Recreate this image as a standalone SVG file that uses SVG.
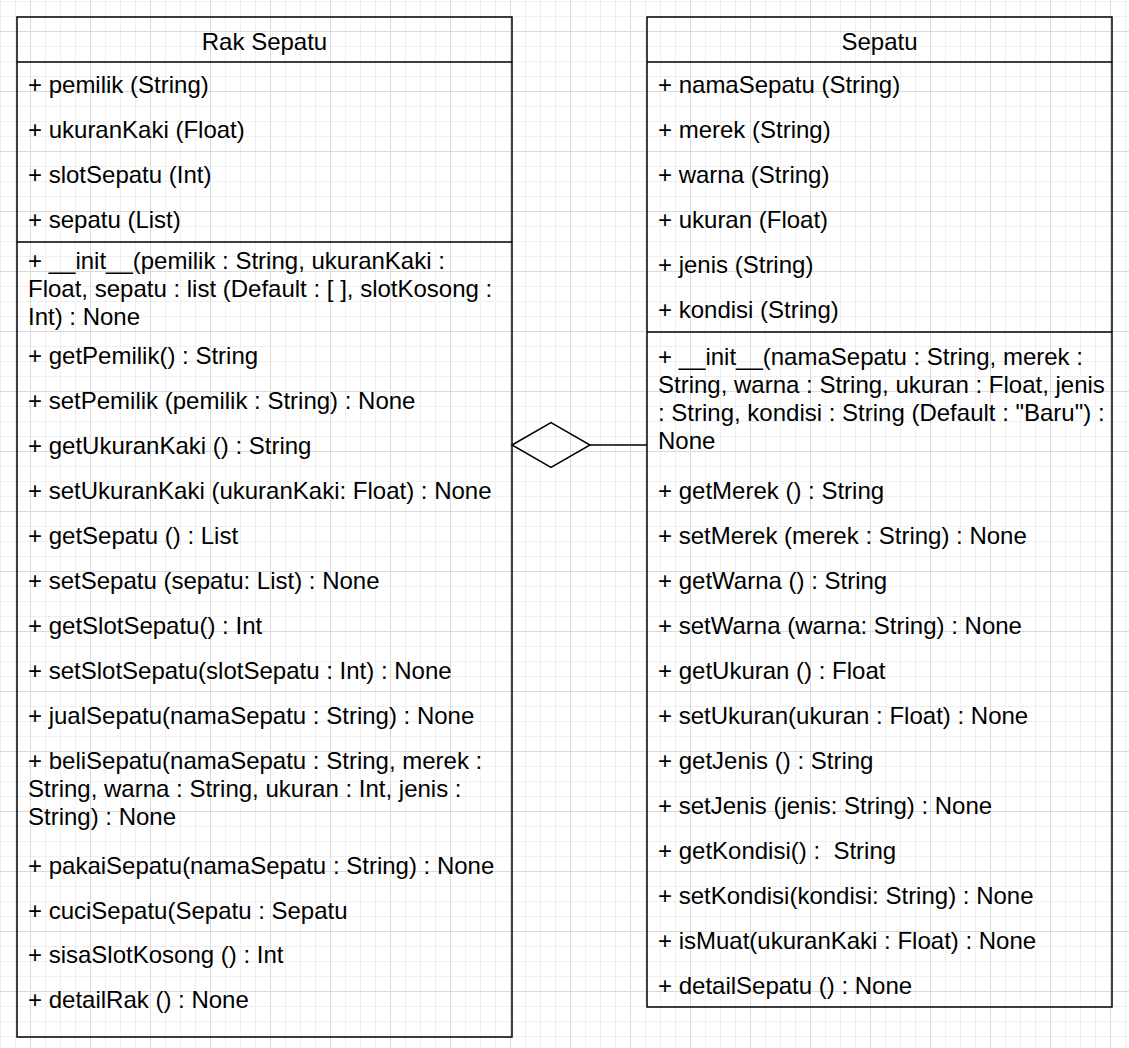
<svg xmlns="http://www.w3.org/2000/svg" width="1129" height="1048" viewBox="0 0 1129 1048">
<style>
.box{fill:none;stroke:#000;stroke-width:1.5}
.ln{stroke:#000;stroke-width:1.5;fill:none}
text{font-family:"Liberation Sans",Arial,sans-serif;font-size:24px;fill:#000;white-space:pre}
.hd{text-anchor:middle}
</style>
<defs>
<pattern id="grid" patternUnits="userSpaceOnUse" x="30" y="31" width="60" height="60">
<path d="M15.5 0V60M30.5 0V60M45.5 0V60M0 15.5H60M0 30.5H60M0 45.5H60" stroke="#f0f0f0" stroke-width="1"/>
<path d="M0.5 0V60M0 0.5H60" stroke="#dadada" stroke-width="1"/>
</pattern>
</defs>
<rect width="1129" height="1048" fill="#fff"/>
<rect width="1129" height="1048" fill="url(#grid)"/>
<g id="connectors">
<polygon class="ln" points="512,445 551,422.5 590,445 551,467.5"/>
<line class="ln" x1="590" y1="445" x2="647" y2="445"/>
</g>
<g id="rak-sepatu">
<rect class="box" x="17" y="17" width="495" height="1020"/>
<line class="ln" x1="17" y1="62" x2="512" y2="62"/>
<line class="ln" x1="17" y1="242" x2="512" y2="242"/>
<text class="hd" x="264.5" y="50">Rak Sepatu</text>
<text x="28" y="93">+ pemilik (String)</text>
<text x="28" y="138">+ ukuranKaki (Float)</text>
<text x="28" y="183">+ slotSepatu (Int)</text>
<text x="28" y="228">+ sepatu (List)</text>
<text x="28" y="268.5">+ __init__(pemilik : String, ukuranKaki :</text>
<text x="28" y="296.5">Float, sepatu : list (Default : [ ], slotKosong :</text>
<text x="28" y="324.5">Int) : None</text>
<text x="28" y="363.5">+ getPemilik() : String</text>
<text x="28" y="408.5">+ setPemilik (pemilik : String) : None</text>
<text x="28" y="453.5">+ getUkuranKaki () : String</text>
<text x="28" y="498.5">+ setUkuranKaki (ukuranKaki: Float) : None</text>
<text x="28" y="543.5">+ getSepatu () : List</text>
<text x="28" y="588.5">+ setSepatu (sepatu: List) : None</text>
<text x="28" y="633.5">+ getSlotSepatu() : Int</text>
<text x="28" y="678.5">+ setSlotSepatu(slotSepatu : Int) : None</text>
<text x="28" y="723.5">+ jualSepatu(namaSepatu : String) : None</text>
<text x="28" y="768.5">+ beliSepatu(namaSepatu : String, merek :</text>
<text x="28" y="796.5">String, warna : String, ukuran : Int, jenis :</text>
<text x="28" y="824.5">String) : None</text>
<text x="28" y="873.5">+ pakaiSepatu(namaSepatu : String) : None</text>
<text x="28" y="918.5">+ cuciSepatu(Sepatu : Sepatu</text>
<text x="28" y="963">+ sisaSlotKosong () : Int</text>
<text x="28" y="1008">+ detailRak () : None</text>
</g>
<g id="sepatu">
<rect class="box" x="647" y="17" width="465" height="990"/>
<line class="ln" x1="647" y1="62" x2="1112" y2="62"/>
<line class="ln" x1="647" y1="332" x2="1112" y2="332"/>
<text class="hd" x="879.5" y="50">Sepatu</text>
<text x="658" y="93">+ namaSepatu (String)</text>
<text x="658" y="138">+ merek (String)</text>
<text x="658" y="183">+ warna (String)</text>
<text x="658" y="228">+ ukuran (Float)</text>
<text x="658" y="273">+ jenis (String)</text>
<text x="658" y="318">+ kondisi (String)</text>
<text x="658" y="365">+ __init__(namaSepatu : String, merek :</text>
<text x="658" y="393">String, warna : String, ukuran : Float, jenis</text>
<text x="658" y="421">: String, kondisi : String (Default : "Baru") :</text>
<text x="658" y="449">None</text>
<text x="658" y="498.5">+ getMerek () : String</text>
<text x="658" y="543.5">+ setMerek (merek : String) : None</text>
<text x="658" y="588.5">+ getWarna () : String</text>
<text x="658" y="633.5">+ setWarna (warna: String) : None</text>
<text x="658" y="678.5">+ getUkuran () : Float</text>
<text x="658" y="723.5">+ setUkuran(ukuran : Float) : None</text>
<text x="658" y="768.5">+ getJenis () : String</text>
<text x="658" y="813.5">+ setJenis (jenis: String) : None</text>
<text x="658" y="858.5">+ getKondisi() :  String</text>
<text x="658" y="903.5">+ setKondisi(kondisi: String) : None</text>
<text x="658" y="948.5">+ isMuat(ukuranKaki : Float) : None</text>
<text x="658" y="993.5">+ detailSepatu () : None</text>
</g>
</svg>
